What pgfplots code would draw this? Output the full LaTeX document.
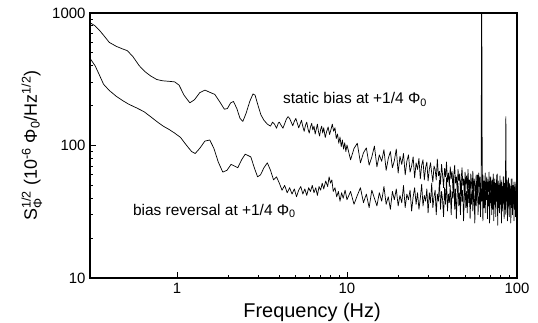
\documentclass[border=0pt]{standalone}
\usepackage{pgfplots}
\pgfplotsset{compat=1.18}
\usepackage{amsmath}
\usepackage{fontspec}
\setmainfont{Liberation Sans}

\begin{document}
\begin{tikzpicture}
\path[use as bounding box] (0,0) rectangle (538bp,323bp);
\begin{axis}[
  at={(90bp,45bp)}, anchor=south west,
  scale only axis, width=427bp, height=265bp,
  xmode=log, ymode=log,
  xmin=0.308, xmax=100, ymin=10, ymax=1000,
  xtick={1,10,100}, xticklabels={1,10,100},
  ytick={10,100,1000}, yticklabels={10,100,1000},
  tick pos=left, tick align=inside,
  major tick length=6bp, minor tick length=3.5bp,
  every tick/.style={black, line width=0.9bp},
  axis line style={line width=1.3bp},
  /pgf/number format/assume math mode=true,
  tick label style={font=\fontsize{15}{18}\selectfont},
  xticklabel style={yshift=-2bp},
  yticklabel style={xshift=-1bp},
  xlabel={Frequency (Hz)},
  xlabel style={font=\fontsize{20}{24}\selectfont, at={(axis description cs:0.52,0)}, anchor=north, yshift=-22bp},
  ylabel={S$^{\text{1/2}}_{\text{Φ}}$ (10$^{\text{-6}}$ Φ$_{\text{0}}$/Hz$^{\text{1/2}}$)},
  ylabel style={font=\fontsize{18}{22}\selectfont, at={(axis description cs:-0.136,0.5)}, anchor=center},
  clip=true,
]
% static bias
\addplot[black, line width=0.7bp, line join=round] table {
0.308 845
0.33 800
0.35 740
0.37 680
0.40 600
0.44 560
0.48 535
0.51 520
0.55 470
0.60 400
0.65 360
0.70 335
0.76 315
0.82 308
0.90 305
0.97 302
1.03 285
1.10 240
1.19 210
1.27 222
1.36 250
1.46 262
1.56 252
1.67 243
1.78 215
1.90 188
1.98 190
2.07 210
2.15 215
2.25 190
2.35 160
2.44 152
2.55 175
2.68 215
2.80 245
2.88 240
3.00 200
3.12 170
3.25 155
3.40 145
3.55 140
3.65 150
3.75 145
3.85 135
3.95 148
4.0 150
4.1 142
4.2 135
4.3 146
4.4 158
4.5 165
4.6 160
4.7 150
4.8 141
4.9 152
5.0 160
5.1 148
5.2 136
5.3 145
5.4 155
5.5 139
5.6 128
5.7 142
5.8 150
5.9 133
6.0 124
6.1 138
6.2 147
6.3 131
6.4 140
6.5 122
6.6 133
6.7 145
6.8 127
6.9 118
7.0 132
7.1 140
7.2 124
7.3 136
7.45 115
7.6 128
7.75 138
7.9 121
8.05 132
8.2 145
8.35 128
8.5 136
8.65 113
8.8 122
8.95 104
9.1 116
9.25 98
9.4 110
9.55 94
9.7 105
9.85 90
10.0 101
10.5 78
11.0 95
11.5 104
12.0 74
12.5 88
13.0 96
13.5 71
14.0 82
14.5 99
15.0 69
15.5 85
16.0 76
16.5 93
17.0 65
17.5 80
18.0 90
18.5 68
19.0 77
19.5 94
20.0 62
20.5 83
21.0 72
21.5 87
22.0 60
22.5 76
23.0 85
23.5 63
24.0 70
24.5 82
25.0 57
25.5 74
26.0 66
26.5 80
27.0 56
27.5 71
28.0 78
28.5 55
29.0 68
29.5 75
30.0 54
30.5 66
31.0 74
31.5 62
32.0 53
32.5 70
33.0 66
33.5 55
34.0 79
34.5 59
35.0 64
35.5 51
36.0 72
36.5 60
37.0 48
37.5 67
38.0 58
38.5 75
39.0 53
39.5 62
40.0 49
40.5 69
41.0 56
41.5 64
42.0 46
42.5 60
43.0 71
43.5 52
44.0 58
44.5 45
45.0 66
45.5 54
46.0 61
46.5 43
47.0 57
47.5 68
48.0 50
48.5 56
49.0 42
49.5 63
50.0 51
50.5 59
51.0 44
51.5 66
52.0 48
52.5 55
53.0 40
53.5 61
54.0 52
54.5 47
55.0 64
55.5 43
56.0 56
56.5 50
57.0 38
57.5 60
58.0 46
58.5 53
59.0 41
59.5 62
60.0 49
60.5 58
61.0 44
61.5 52
62.0 2000
62.5 47
63.0 60
63.5 39
64.0 54
64.5 46
65.0 62
65.5 41
66.0 50
66.5 57
67.0 37
67.5 53
68.0 45
68.5 63
69.0 40
69.5 51
70.0 58
70.5 36
71.0 49
71.5 55
72.0 42
72.5 61
73.0 38
73.5 47
74.0 56
74.5 35
75.0 52
75.5 44
76.0 60
76.5 39
77.0 48
77.5 54
78.0 34
78.5 50
79.0 43
79.5 59
80.0 37
80.5 46
81.0 53
81.5 33
82.0 49
82.5 42
83.0 58
83.5 36
84.0 45
84.5 52
85.0 38
85.5 47
86.0 165
86.5 41
87.0 55
87.5 34
88.0 48
88.5 43
89.0 57
89.5 35
90.0 46
90.5 51
91.0 33
91.5 47
92.0 40
92.5 56
93.0 36
93.5 44
94.0 50
94.5 32
95.0 46
95.5 39
96.0 53
96.5 35
97.0 43
97.5 49
98.0 31
98.5 45
99.0 38
99.5 52
100.0 40
};
% bias reversal
\addplot[black, line width=0.7bp, line join=round] table {
0.308 455
0.33 400
0.35 340
0.37 290
0.40 260
0.44 235
0.48 218
0.52 205
0.58 192
0.64 180
0.70 165
0.77 150
0.83 140
0.90 132
0.97 124
1.05 115
1.14 100
1.22 90
1.28 87
1.36 95
1.46 108
1.56 110
1.65 95
1.75 75
1.86 63
1.97 65
2.08 72
2.18 70
2.28 68
2.40 78
2.52 86
2.62 84
2.72 82
2.85 68
2.98 58
3.10 60
3.25 68
3.40 74
3.55 65
3.70 55
3.85 58
4.0 52
4.15 46
4.3 50
4.45 44
4.6 48
4.75 43
4.9 47
5.05 41
5.2 46
5.35 49
5.5 43
5.65 47
5.8 42
5.95 48
6.1 45
6.25 50
6.4 44
6.55 48
6.7 42
6.85 49
7.0 46
7.15 52
7.3 47
7.5 54
7.7 49
7.85 58
8.0 52
8.15 55
8.3 45
8.5 48
8.7 41
8.9 45
9.1 38
9.3 44
9.5 40
9.75 46
10.0 39
10.5 45
11.0 36
11.5 42
12.0 48
12.5 37
13.0 43
13.5 34
14.0 46
14.5 40
15.0 35
15.5 44
16.0 38
16.5 49
17.0 36
17.5 41
18.0 33
18.5 45
19.0 39
19.5 47
20.0 35
20.5 42
21.0 37
21.5 50
22.0 34
22.5 43
23.0 39
23.5 46
24.0 32
24.5 41
25.0 48
25.5 36
26.0 44
26.5 33
27.0 40
27.5 51
28.0 35
28.5 42
29.0 38
29.5 47
30.0 31
30.5 44
31.0 37
31.5 52
32.0 34
32.5 41
33.0 46
33.5 30
34.0 43
34.5 38
35.0 55
35.5 33
36.0 45
36.5 39
37.0 29
37.5 48
38.0 36
38.5 57
39.0 32
39.5 43
40.0 37
40.5 50
41.0 30
41.5 45
42.0 40
42.5 59
43.0 33
43.5 47
44.0 28
44.5 42
45.0 52
45.5 35
46.0 44
46.5 30
47.0 56
47.5 38
48.0 46
48.5 27
49.0 41
49.5 53
50.0 34
50.5 45
51.0 31
51.5 58
52.0 37
52.5 48
53.0 28
53.5 43
54.0 36
54.5 55
55.0 32
55.5 46
56.0 39
56.5 26
57.0 50
57.5 35
58.0 44
58.5 60
59.0 30
59.5 41
60.0 36
60.5 53
61.0 29
61.5 47
62.0 38
62.5 56
63.0 27
63.5 43
64.0 34
64.5 51
65.0 31
65.5 45
66.0 39
66.5 58
67.0 28
67.5 42
68.0 35
68.5 49
69.0 26
69.5 44
70.0 37
70.5 54
71.0 30
71.5 46
72.0 33
72.5 57
73.0 27
73.5 41
74.0 36
74.5 50
75.0 29
75.5 45
76.0 38
76.5 61
77.0 25
77.5 43
78.0 34
78.5 52
79.0 31
79.5 47
80.0 36
80.5 55
81.0 26
81.5 44
82.0 32
82.5 49
83.0 37
83.5 58
84.0 28
84.5 45
85.0 33
85.5 51
86.0 30
86.5 46
87.0 38
87.5 54
88.0 27
88.5 43
89.0 35
89.5 48
90.0 29
90.5 52
91.0 36
91.5 44
92.0 26
92.5 49
93.0 34
93.5 56
94.0 30
94.5 42
95.0 37
95.5 50
96.0 27
96.5 45
97.0 33
97.5 53
98.0 29
98.5 41
99.0 36
99.5 47
100.0 28
};
\node[anchor=base west, font=\fontsize{15.5}{18}\selectfont, inner sep=0pt] at (axis cs:4.2,207) {static bias at +1/4 Φ$_{\text{0}}$};
\node[anchor=base west, font=\fontsize{15.5}{18}\selectfont, inner sep=0pt] at (axis cs:0.551,29.8) {bias reversal at +1/4 Φ$_{\text{0}}$};
\end{axis}
\end{tikzpicture}
\end{document}
